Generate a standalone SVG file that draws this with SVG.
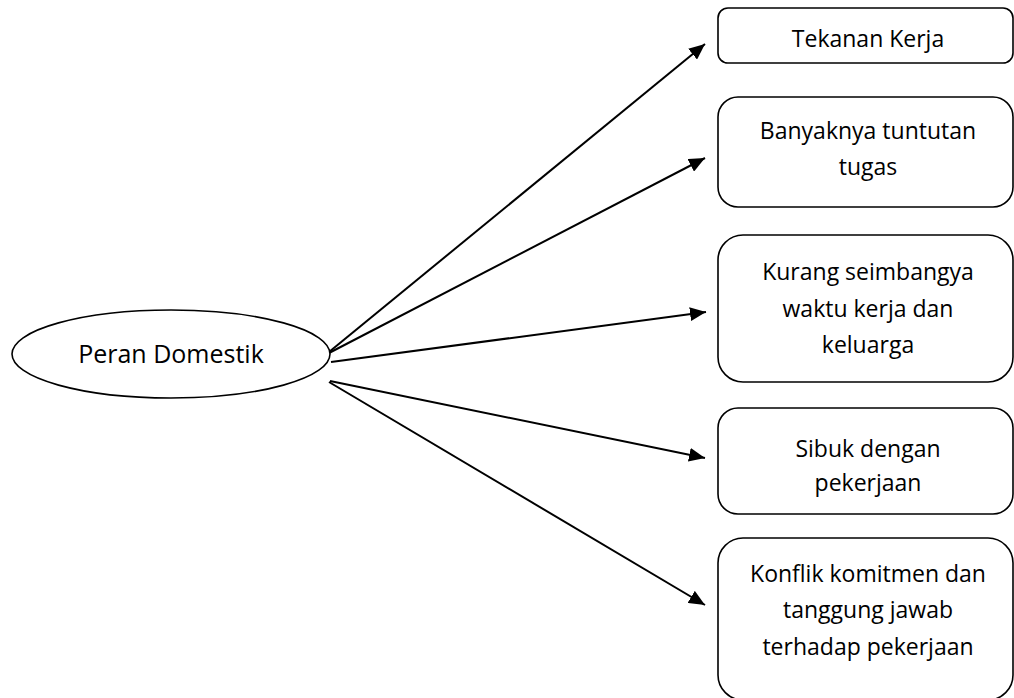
<svg xmlns="http://www.w3.org/2000/svg" width="1014" height="698" viewBox="0 0 1014 698">
<style>
.box{fill:#fff;stroke:#000;stroke-width:1.6}
.t{font-family:"Open Sans","Liberation Sans",sans-serif;font-size:23px;fill:#000;text-anchor:middle}
.c{stroke:#000;stroke-width:2;fill:none;marker-end:url(#ah)}
</style>
<defs>
<marker id="ah" markerUnits="userSpaceOnUse" markerWidth="16" markerHeight="14" refX="16" refY="7" orient="auto">
<path d="M0,0 L16,7 L0,14 z" fill="#000"/>
</marker>
</defs>
<rect width="1014" height="698" fill="#fff"/>
<g id="connectors">
<line class="c" x1="329" y1="352" x2="705" y2="44"/>
<line class="c" x1="329" y1="353" x2="705" y2="158"/>
<line class="c" x1="331" y1="362" x2="706" y2="312"/>
<line class="c" x1="330" y1="381" x2="705" y2="458"/>
<line class="c" x1="329" y1="382" x2="705" y2="605"/>
</g>
<g id="peran">
<ellipse class="box" cx="171" cy="354" rx="159" ry="44"/>
<text class="t" x="171" y="363" style="font-size:25px">Peran Domestik</text>
</g>
<g id="n1">
<rect class="box" x="718" y="8" width="295" height="55" rx="10"/>
<text class="t" x="868" y="47">Tekanan Kerja</text>
</g>
<g id="n2">
<rect class="box" x="718" y="97" width="295" height="110" rx="20"/>
<text class="t" x="868" y="139">Banyaknya tuntutan</text>
<text class="t" x="868" y="175">tugas</text>
</g>
<g id="n3">
<rect class="box" x="718" y="235" width="295" height="147" rx="25"/>
<text class="t" x="868" y="280">Kurang seimbangya</text>
<text class="t" x="868" y="317">waktu kerja dan</text>
<text class="t" x="868" y="353">keluarga</text>
</g>
<g id="n4">
<rect class="box" x="718" y="408" width="295" height="106" rx="20"/>
<text class="t" x="868" y="457">Sibuk dengan</text>
<text class="t" x="868" y="491">pekerjaan</text>
</g>
<g id="n5">
<rect class="box" x="718" y="538" width="295" height="162" rx="25"/>
<text class="t" x="868" y="582">Konflik komitmen dan</text>
<text class="t" x="868" y="618">tanggung jawab</text>
<text class="t" x="868" y="655">terhadap pekerjaan</text>
</g>
</svg>
